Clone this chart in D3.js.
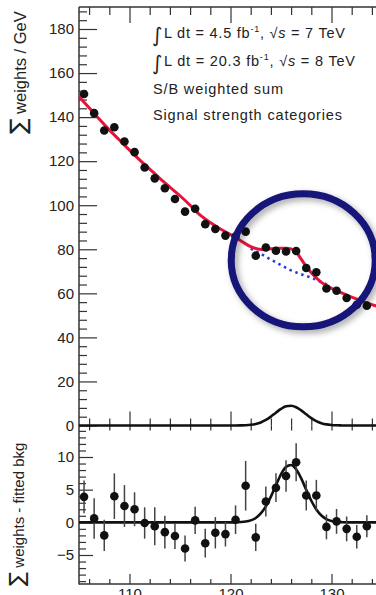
<!DOCTYPE html>
<html><head><meta charset="utf-8">
<script src="https://cdn.jsdelivr.net/npm/d3@7"></script>
<style>
html,body{margin:0;padding:0;background:#fff;}
svg{display:block;font-family:"Liberation Sans",Arial,Helvetica,sans-serif;}
</style>
</head><body>
<svg id="c" width="376" height="595"></svg>
<script>
// ---------------- data ----------------
const massBins = [105.5,106.5,107.5,108.5,109.5,110.5,111.5,112.5,113.5,114.5,115.5,116.5,117.5,118.5,119.5,120.5,121.5,122.5,123.5,124.5,125.5,126.5,127.5,128.5,129.5,130.5,131.5,132.5,133.5];
const weights = [150.5,141.8,133.9,135.4,128.9,124.1,117.1,112.2,107.7,102.8,97.1,98.4,91.4,89.2,86.2,85.8,88.0,77.1,80.8,79.3,79.0,79.2,71.5,69.6,62.2,61.2,57.9,54.8,54.4];

const fitMass = [105,106,107,108,109,110,111,112,113,114,115,116,117,118,119,120,121,122,123,124,125,125.5,126,126.5,127,127.5,128,129,130,131,132,133,134,135];
const fitValues = [149.3,144.2,139.1,134.2,129.6,125.0,120.6,116.4,112.2,108.2,104.3,100.0,95.5,92.2,89.2,86.7,83.9,81.2,79.9,80.2,80.5,80.5,80.2,78.8,75.5,72.2,69.3,65.0,62.3,60.2,58.3,56.5,54.9,53.5];

const bkgMass = [122,123,124,125,126,127,128,129,129.6];
const bkgValues = [80.3,77.9,75.3,72.8,70.4,68.7,67.1,65.1,63.9];

const sigMass = [105,120.5,121,121.5,122,122.5,123,123.5,124,124.5,125,125.5,126,126.5,127,127.5,128,128.5,129,129.5,130,130.5,131,131.5,135];
const sigMain = [0,0,0.04,0.12,0.31,0.69,1.39,2.5,4.03,5.82,7.52,8.69,8.98,8.31,6.88,5.09,3.38,2.0,1.06,0.5,0.22,0.08,0.03,0,0];
const sigResid = [0,0,0.04,0.12,0.3,0.67,1.36,2.45,3.94,5.69,7.35,8.49,8.78,8.12,6.72,4.98,3.3,1.96,1.04,0.49,0.21,0.08,0.03,0,0];

const residuals = [3.9,0.6,-2.0,4.0,2.5,2.0,-0.1,-0.6,-1.5,-2.1,-4.0,0.3,-3.2,-1.6,-1.8,0.4,5.6,-2.3,3.2,5.3,7.1,9.2,4.1,4.1,-0.7,0.15,-1.0,-2.2,-0.6];
const residErr = [2.5,3.1,2.4,3.5,3.2,2.6,2.4,2.9,2.5,2.0,2.0,2.1,2.2,2.4,1.9,2.2,3.8,2.1,2.3,2.2,2.4,2.9,2.3,2.4,1.9,1.9,1.9,1.8,1.7];

const yMainTicks = [0,20,40,60,80,100,120,140,160,180];
const yResTicks = [-5,0,5,10];
const xTicks = [110,120,130];
const xTickLabels = ["110","120","130"];

const legendLines = ["S/B weighted sum","Signal strength categories"];

// ---------------- drawing ----------------
const svg = d3.select("#c");
const x = d3.scaleLinear().domain([105,135]).range([79,382]);
const yM = d3.scaleLinear().domain([0,180]).range([425.5,29]);
const yR = d3.scaleLinear().domain([-5,10]).range([555,457]);

const axisCol = "#333";
const defs = svg.append("defs");
const f = defs.append("filter").attr("id","sh").attr("x","-20%").attr("y","-20%").attr("width","150%").attr("height","150%");
f.append("feDropShadow").attr("dx",3).attr("dy",3).attr("stdDeviation",3).attr("flood-color","#000").attr("flood-opacity",0.35);

const xMinor = [106,108,112,114,116,118,122,124,126,128,132,134];
const yMainMinor = d3.range(4,190,4).filter(v => v % 20 !== 0);
const yResMinor = d3.range(-9,15,1).filter(v => v % 5 !== 0);

function style(g){
  g.select(".domain").remove();
  g.selectAll(".tick line").attr("stroke",axisCol).attr("stroke-width",1.2);
  g.selectAll(".tick text").attr("fill","#222").attr("font-size",15).attr("font-family","'Liberation Sans',Arial,sans-serif");
}

// main left axis
svg.append("g").attr("transform","translate(79,0)")
  .call(d3.axisLeft(yM).tickValues(yMainTicks).tickSize(-18).tickPadding(5).tickFormat(d3.format("d"))).call(style);
svg.append("g").attr("transform","translate(79,0)")
  .call(d3.axisLeft(yM).tickValues(yMainMinor).tickSize(-8).tickFormat("")).call(style);
// residual left axis
svg.append("g").attr("transform","translate(79,0)")
  .call(d3.axisLeft(yR).tickValues(yResTicks).tickSize(-14).tickPadding(5).tickFormat(d3.format("d"))).call(style);
svg.append("g").attr("transform","translate(79,0)")
  .call(d3.axisLeft(yR).tickValues(yResMinor).tickSize(-7).tickFormat("")).call(style);
svg.selectAll(".tick text").filter(function(){return this.textContent==="-5";}).text("-5");

// top axis
svg.append("g").attr("transform","translate(0,7)")
  .call(d3.axisTop(x).tickValues(xTicks).tickSize(-16).tickFormat("")).call(style);
svg.append("g").attr("transform","translate(0,7)")
  .call(d3.axisTop(x).tickValues(xMinor).tickSize(-8).tickFormat("")).call(style);
// middle axis (main panel bottom)
svg.append("g").attr("transform","translate(0,425.5)")
  .call(d3.axisBottom(x).tickValues(xTicks).tickSize(-14).tickFormat("")).call(style);
svg.append("g").attr("transform","translate(0,425.5)")
  .call(d3.axisBottom(x).tickValues(xMinor).tickSize(-7).tickFormat("")).call(style);
svg.append("g").attr("transform","translate(0,425.5)")
  .call(d3.axisBottom(x).tickValues(xTicks.concat(xMinor)).tickSize(5).tickFormat("")).call(style);
// bottom axis
svg.append("g").attr("transform","translate(0,584)")
  .call(d3.axisBottom(x).tickValues(xTicks).tickSize(-10).tickPadding(4).tickFormat((d,i)=>xTickLabels[i])).call(style);
svg.append("g").attr("transform","translate(0,584)")
  .call(d3.axisBottom(x).tickValues(xMinor).tickSize(-5).tickFormat("")).call(style);

// frame lines
svg.append("line").attr("x1",79).attr("x2",79).attr("y1",7).attr("y2",584.5).attr("stroke",axisCol).attr("stroke-width",1.5);
svg.append("line").attr("x1",79).attr("x2",376).attr("y1",7).attr("y2",7).attr("stroke",axisCol).attr("stroke-width",1.5);
svg.append("line").attr("x1",79).attr("x2",376).attr("y1",584).attr("y2",584).attr("stroke",axisCol).attr("stroke-width",1.5);

// signal curve on main panel baseline
const lineMain = d3.line().x((d,i)=>x(sigMass[i])).y(d=>yM(d)).curve(d3.curveMonotoneX);
svg.append("path").attr("d",lineMain(sigMain)).attr("fill","none").attr("stroke","#111").attr("stroke-width",2.6);

// background (blue dotted)
const bkgLine = d3.line().x((d,i)=>x(bkgMass[i])).y(d=>yM(d)).curve(d3.curveMonotoneX);
svg.append("path").attr("d",bkgLine(bkgValues)).attr("fill","none").attr("stroke","#2a3be0")
  .attr("stroke-width",2.6).attr("stroke-dasharray","2.5,3.8");

// fit (red)
const fitLine = d3.line().x((d,i)=>x(fitMass[i])).y(d=>yM(d)).curve(d3.curveMonotoneX);
svg.append("path").attr("d",fitLine(fitValues)).attr("fill","none").attr("stroke","#e8133c").attr("stroke-width",3);

// data points main
svg.append("g").selectAll("circle").data(weights).join("circle")
  .attr("cx",(d,i)=>x(massBins[i])).attr("cy",d=>yM(d)).attr("r",4.3).attr("fill","#111");

// residual panel: fit curve
const lineRes = d3.line().x((d,i)=>x(sigMass[i])).y(d=>yR(d)).curve(d3.curveMonotoneX);
svg.append("path").attr("d",lineRes(sigResid)).attr("fill","none").attr("stroke","#111").attr("stroke-width",2.6);

// residual error bars & points
svg.append("g").selectAll("line").data(residuals).join("line")
  .attr("x1",(d,i)=>x(massBins[i])).attr("x2",(d,i)=>x(massBins[i]))
  .attr("y1",(d,i)=>yR(d-residErr[i])).attr("y2",(d,i)=>yR(d+residErr[i]))
  .attr("stroke","#444").attr("stroke-width",1.5);
svg.append("g").selectAll("circle").data(residuals).join("circle")
  .attr("cx",(d,i)=>x(massBins[i])).attr("cy",d=>yR(d)).attr("r",4.3).attr("fill","#111");

// annotation ellipse (in data units)
const ell = {m:127.2, v:75, dm:7.13, dv:30.2};
svg.append("ellipse").attr("cx",x(ell.m)).attr("cy",yM(ell.v))
  .attr("rx",x(ell.m+ell.dm)-x(ell.m)).attr("ry",yM(ell.v)-yM(ell.v+ell.dv))
  .attr("fill","none").attr("stroke","#141478").attr("stroke-width",7).attr("filter","url(#sh)");

// legend text
const tcol = "#222";
function lumiLine(y, lumi, energy, len){
  svg.append("text").attr("x",152).attr("y",y+4).attr("font-size",20).attr("fill",tcol)
    .attr("font-family","'DejaVu Sans',sans-serif").text("\u222B");
  const t = svg.append("text").attr("x",164).attr("y",y).attr("font-size",14.5).attr("fill",tcol)
    .attr("textLength",len).attr("lengthAdjust","spacing");
  t.append("tspan").text("L dt = " + lumi + " fb");
  t.append("tspan").attr("dy",-6).attr("font-size",9).text("-1");
  t.append("tspan").attr("dy",6).text(", \u221A");
  t.append("tspan").attr("font-style","italic").text("s");
  t.append("tspan").text(" = " + energy + " TeV");
}
lumiLine(38,"4.5","7",181);
lumiLine(66,"20.3","8",191);
svg.append("text").attr("x",153).attr("y",94).attr("font-size",14.5).attr("fill",tcol)
  .attr("textLength",130).attr("lengthAdjust","spacing").text(legendLines[0]);
svg.append("text").attr("x",153).attr("y",120).attr("font-size",14.5).attr("fill",tcol)
  .attr("textLength",189).attr("lengthAdjust","spacing").text(legendLines[1]);

// y-axis titles
const t1 = svg.append("text").attr("transform","translate(26,134) rotate(-90)").attr("fill",tcol).attr("font-size",16.5);
t1.append("tspan").attr("font-size",23).attr("font-family","'DejaVu Sans',sans-serif").text("\u2211");
t1.append("tspan").text(" weights / GeV");
const t2 = svg.append("text").attr("transform","translate(24,586) rotate(-90)").attr("fill",tcol).attr("font-size",15);
t2.append("tspan").attr("font-size",21).attr("font-family","'DejaVu Sans',sans-serif").text("\u2211");
t2.append("tspan").text(" weights - fitted bkg");
</script>
</body></html>
